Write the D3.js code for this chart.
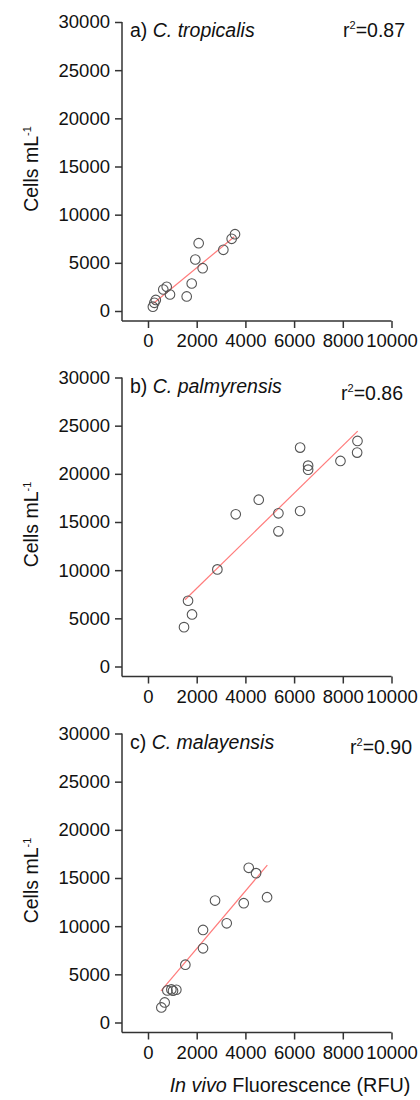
<!DOCTYPE html>
<html>
<head>
<meta charset="utf-8">
<script src="https://cdn.jsdelivr.net/npm/d3@7"></script>
<style>
  body { margin: 0; background: #fff; }
  svg { display: block; font-family: "Liberation Sans", Arial, sans-serif; }
  .axis text { font-size: 18.5px; fill: #111; }
  .axis line { stroke: #333; stroke-width: 1.5; }
</style>
</head>
<body>
<div id="chart"></div>
<script>
// panel labels
const panelLetters = ["a)", "b)", "c)"];
const species = ["C. tropicalis", "C. palmyrensis", "C. malayensis"];
const r2Labels = ["0.87", "0.86", "0.90"];

// ticks
const xTicks = [0, 2000, 4000, 6000, 8000, 10000];
const yTicks = [0, 5000, 10000, 15000, 20000, 25000, 30000];

// a) C. tropicalis
const tropX = [200, 260, 320, 628, 768, 903, 1589, 1795, 1943, 2081, 2245, 3094, 3436, 3573];
const tropY = [450, 850, 1150, 2232, 2512, 1713, 1509, 2855, 5346, 7038, 4443, 6353, 7495, 7973];
const tropFitX = [218, 3544];
const tropFitY = [780, 7700];

// b) C. palmyrensis
const palmX = [1479, 1808, 1644, 2849, 3603, 4548, 5356, 5356, 6247, 6247, 6575, 6575, 7904, 8603, 8589];
const palmY = [4087, 5404, 6824, 10080, 15795, 17319, 15899, 14028, 16141, 22723, 20852, 20436, 21337, 23415, 22203];
const palmFitX = [1520, 8612];
const palmFitY = [6924, 24430];

// c) C. malayensis
const malaX = [548, 685, 795, 959, 1027, 1164, 1534, 2260, 2260, 2753, 3233, 3932, 4137, 4438, 4890];
const malaY = [1561, 2081, 3330, 3434, 3295, 3399, 6000, 7700, 9608, 12660, 10300, 12383, 16060, 15505, 13007];
const malaFitX = [534, 4900];
const malaFitY = [3290, 16340];

const seriesX = [tropX, palmX, malaX];
const seriesY = [tropY, palmY, malaY];
const fitsX = [tropFitX, palmFitX, malaFitX];
const fitsY = [tropFitY, palmFitY, malaFitY];

const W = 420, H = 1100;
const panelTops = [22, 377.5, 733.5];
const plotH = 289;      // 0 -> 30000
const axisGap = 10;     // x axis sits below the 0 tick
const r2Dy = [15, 22, 20];
const r2Right = [405, 403, 412];

const svg = d3.select("#chart").append("svg")
  .attr("width", W)
  .attr("height", H);

const x = d3.scaleLinear().domain([0, 10000]).range([148, 391.5]);
const yAxisX = 122;

panelTops.forEach((T, i) => {
  const y = d3.scaleLinear().domain([0, 30000]).range([T + plotH, T]);
  const axisY = T + plotH + axisGap;
  const g = svg.append("g");

  // y axis
  const ya = g.append("g")
    .attr("class", "axis")
    .attr("transform", `translate(${yAxisX},0)`)
    .call(d3.axisLeft(y).tickValues(yTicks).tickSize(7).tickPadding(5).tickFormat(d3.format("d")));
  ya.select(".domain").remove();

  // x axis
  const xa = g.append("g")
    .attr("class", "axis")
    .attr("transform", `translate(0,${axisY})`)
    .call(d3.axisBottom(x).tickValues(xTicks).tickSize(7).tickPadding(6).tickFormat(d3.format("d")));
  xa.select(".domain").remove();

  // axis lines
  g.append("line")
    .attr("x1", yAxisX).attr("x2", yAxisX)
    .attr("y1", y(30000)).attr("y2", axisY)
    .attr("stroke", "#333").attr("stroke-width", 1.5);
  g.append("line")
    .attr("x1", yAxisX).attr("x2", x(10000))
    .attr("y1", axisY).attr("y2", axisY)
    .attr("stroke", "#333").attr("stroke-width", 1.5);

  // y label
  const yl = g.append("text")
    .attr("transform", `translate(38,${T + 147}) rotate(-90)`)
    .attr("text-anchor", "middle")
    .style("font-size", "19.5px")
    .attr("fill", "#111");
  yl.append("tspan").text("Cells mL");
  yl.append("tspan").attr("dy", -7).style("font-size", "11px").text("-1");

  // fit line
  g.append("line")
    .attr("x1", x(fitsX[i][0])).attr("y1", y(fitsY[i][0]))
    .attr("x2", x(fitsX[i][1])).attr("y2", y(fitsY[i][1]))
    .attr("stroke", "#ff7b7b")
    .attr("stroke-width", 1.2);

  // points
  g.selectAll("circle")
    .data(seriesX[i].map((v, k) => [v, seriesY[i][k]]))
    .join("circle")
    .attr("cx", d => x(d[0]))
    .attr("cy", d => y(d[1]))
    .attr("r", 4.8)
    .attr("fill", "none")
    .attr("stroke", "#555")
    .attr("stroke-width", 1.1);

  // title
  const t = g.append("text")
    .attr("x", 130)
    .attr("y", T + 15)
    .style("font-size", "19.5px")
    .attr("fill", "#111");
  t.append("tspan").text(panelLetters[i] + " ");
  t.append("tspan").style("font-style", "italic").text(species[i]);

  // r2
  const r = g.append("text")
    .attr("x", r2Right[i])
    .attr("y", T + r2Dy[i])
    .attr("text-anchor", "end")
    .style("font-size", "19.5px")
    .attr("fill", "#111");
  r.append("tspan").text("r");
  r.append("tspan").attr("dy", -8).style("font-size", "11px").text("2");
  r.append("tspan").attr("dy", 8).text("=" + r2Labels[i]);
});

// x label
const xl = svg.append("text")
  .attr("x", 290)
  .attr("y", 1092)
  .attr("text-anchor", "middle")
  .style("font-size", "19.8px")
  .attr("fill", "#111");
xl.append("tspan").style("font-style", "italic").text("In vivo");
xl.append("tspan").text(" Fluorescence (RFU)");
</script>
</body>
</html>
